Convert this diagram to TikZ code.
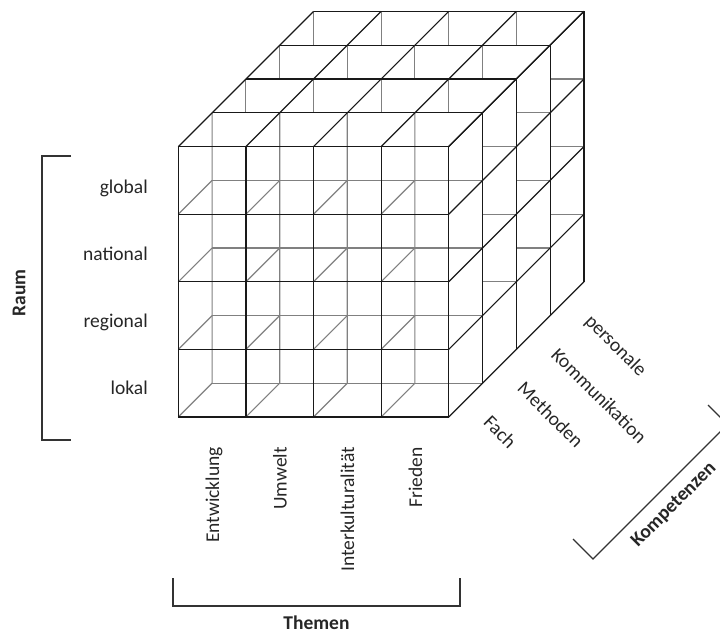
\documentclass[tikz,border=0pt]{standalone}
\usepackage{fontspec}
\setmainfont{Carlito}
\begin{document}
\begin{tikzpicture}[x=1pt,y=-1pt,
  vis/.style={draw=black!90, line width=1.2pt},
  hid/.style={draw=black!50, line width=1.15pt},
  brk/.style={draw=black!80, line width=1.3pt},
  lab/.style={font=\fontsize{19.5}{23}\selectfont, text=black!85, inner sep=0pt},
  blab/.style={font=\fontsize{19.5}{23}\selectfont\bfseries, text=black!85, inner sep=0pt}]
\useasboundingbox (0,0) rectangle (720,633);
\clip (0,0) rectangle (720,633);
% lattice points p<i><j><k>
\foreach \i in {0,...,4}{
  \foreach \j in {0,...,4}{
    \foreach \k in {0,...,4}{
      \coordinate (p\i\j\k) at ({178.3+67.6*\i+33.8*\k},{417-67.6*\j-33.8*\k});
}}}
% hidden (grey) edges behind the front face
\foreach \i in {0,...,3}{
  \foreach \j in {0,...,3}{
    \pgfmathtruncatemacro\ii{\i+1}
    \pgfmathtruncatemacro\jj{\j+1}
    \draw[hid] (p\i\j0) -- (p\i\j1) -- (p\i\jj1);
    \draw[hid] (p\i\j1) -- (p\ii\j1);
}}
% hidden edges seen through the top face
\foreach \i in {0,...,3}{
  \foreach \k in {2,3,4}{
    \draw[hid] (p\i4\k) -- ++(0,33.8);
}}
% hidden edges seen through the right face
\foreach \j in {1,2,3}{
  \foreach \k in {2,3,4}{
    \draw[hid] (p4\j\k) -- ++(-33.8,0);
}}
% visible edges
\foreach \n in {0,...,4}{
  \draw[vis] (p\n00) -- (p\n40);
  \draw[vis] (p0\n0) -- (p4\n0);
  \draw[vis] (p04\n) -- (p44\n);
  \draw[vis] (p\n40) -- (p\n44);
  \draw[vis] (p40\n) -- (p44\n);
  \draw[vis] (p4\n0) -- (p4\n4);
}
% Raum
\coordinate (r1) at (71,156);
\coordinate (r2) at (42,156);
\coordinate (r3) at (42,440);
\coordinate (r4) at (71,440);
\draw[brk] (r1) -- (r2) -- (r3) -- (r4);
\node[blab, rotate=90] (raum) at (19,293) {Raum};
\node[lab, anchor=base east] (global) at (148,193) {global};
\node[lab, anchor=base east] (national) at (148,260) {national};
\node[lab, anchor=base east] (regional) at (148,327) {regional};
\node[lab, anchor=base east] (lokal) at (148,394) {lokal};
% Themen
\coordinate (t1) at (173,578);
\coordinate (t2) at (173,606);
\coordinate (t3) at (460,606);
\coordinate (t4) at (460,578);
\draw[brk] (t1) -- (t2) -- (t3) -- (t4);
\node[lab, rotate=90, anchor=base east] (entw) at (219,447) {Entwicklung};
\node[lab, rotate=90, anchor=base east] (umw) at (286.5,447) {Umwelt};
\node[lab, rotate=90, anchor=base east] (inter) at (354,447) {Interkulturalität};
\node[lab, rotate=90, anchor=base east] (fried) at (422,447) {Frieden};
\node[blab, anchor=base] (themen) at (316.5,629) {Themen};
% Kompetenzen
\coordinate (k1) at (573,539);
\coordinate (k2) at (593,559);
\coordinate (k3) at (727.5,424.5);
\coordinate (k4) at (708,405);
\draw[brk] (k1) -- (k2) -- (k3) -- (k4);
\node[lab, rotate=-45, anchor=base west] (fach) at (482.5,423.5) {Fach};
\node[lab, rotate=-45, anchor=base west] (meth) at (516.3,389.7) {Methoden};
\node[lab, rotate=-45, anchor=base west] (komm) at (550.1,355.9) {Kommunikation};
\node[lab, rotate=-45, anchor=base west] (pers) at (583.9,322.1) {personale};
\node[blab, rotate=45] (kompetenzen) at (674,505) {Kompetenzen};
\end{tikzpicture}
\end{document}
